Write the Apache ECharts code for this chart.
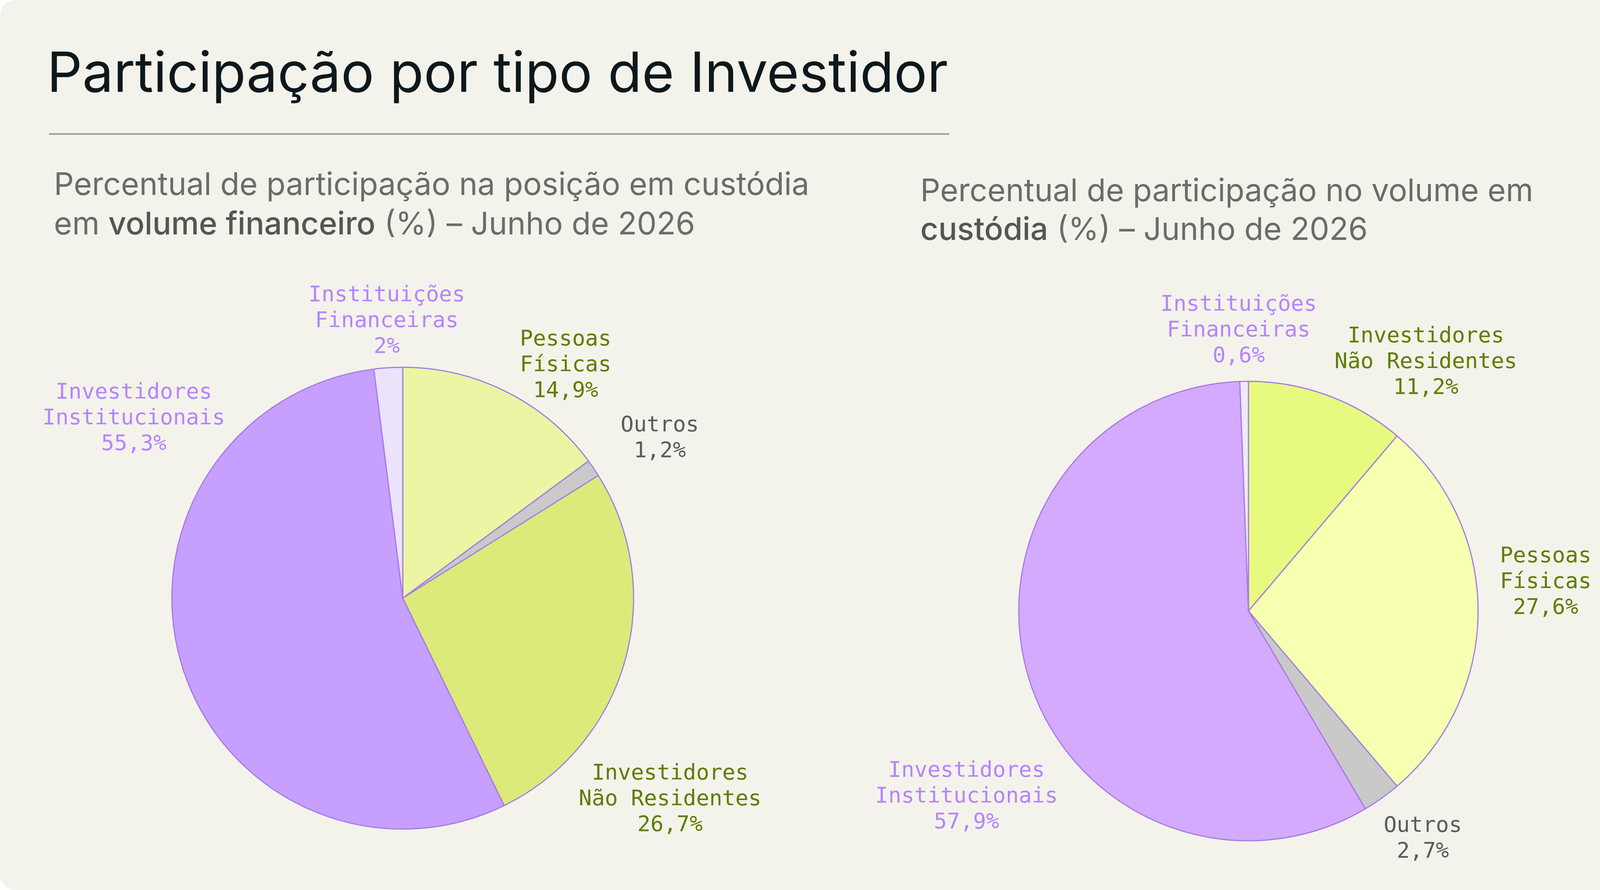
<!DOCTYPE html>
<html>
<head>
<meta charset="utf-8">
<title>Participação por tipo de Investidor</title>
<script src="https://cdn.jsdelivr.net/npm/echarts@6/dist/echarts.min.js"></script>
<style>
  html, body { margin: 0; padding: 0; background: #ffffff; }
  #chart { width: 4287px; height: 2278px; }
</style>
</head>
<body>
<div id="chart"></div>
<script>
// dados
var categoriasFinanceiro = ['Pessoas Físicas', 'Outros', 'Investidores Não Residentes', 'Investidores Institucionais', 'Instituições Financeiras'];
var valoresFinanceiro = [14.9, 1.2, 26.7, 55.3, 2];

var categoriasCustodia = ['Investidores Não Residentes', 'Pessoas Físicas', 'Outros', 'Investidores Institucionais', 'Instituições Financeiras'];
var valoresCustodia = [11.2, 27.6, 2.7, 57.9, 0.6];

// estilos
var coresFinanceiro = {
  'Pessoas Físicas': '#ebf5a4',
  'Outros': '#cacaca',
  'Investidores Não Residentes': '#dcea79',
  'Investidores Institucionais': '#c69fff',
  'Instituições Financeiras': '#ece2fb'
};
var coresCustodia = {
  'Investidores Não Residentes': '#e7fa80',
  'Pessoas Físicas': '#f7ffb1',
  'Outros': '#c9c9c9',
  'Investidores Institucionais': '#d4aaff',
  'Instituições Financeiras': '#f1e9ff'
};
var corRotulo = {
  'Pessoas Físicas': '#5f7d00',
  'Investidores Não Residentes': '#5f7d00',
  'Outros': '#5b5a60',
  'Investidores Institucionais': '#b883ff',
  'Instituições Financeiras': '#b883ff'
};

// posição dos rótulos: [ângulo a partir do topo (graus), distância / raio]
var rotulosFinanceiro = {
  'Pessoas Físicas': [35, 1.23],
  'Outros': [58.2, 1.31],
  'Investidores Não Residentes': [127, 1.45],
  'Investidores Institucionais': [303.7, 1.40],
  'Instituições Financeiras': [356.7, 1.20]
};
var rotulosCustodia = {
  'Investidores Não Residentes': [35.5, 1.33],
  'Pessoas Físicas': [84.5, 1.30],
  'Outros': [142.6, 1.25],
  'Investidores Institucionais': [236.6, 1.47],
  'Instituições Financeiras': [358, 1.22]
};

var pizzas = [
  { centro: [1031, 1531], raio: 591, cats: categoriasFinanceiro, vals: valoresFinanceiro, cores: coresFinanceiro, rotulos: rotulosFinanceiro },
  { centro: [3196, 1564], raio: 588, cats: categoriasCustodia, vals: valoresCustodia, cores: coresCustodia, rotulos: rotulosCustodia }
];

var chartDom = document.getElementById('chart');
var myChart = echarts.init(chartDom);

function formatarValor(v) {
  return String(v).replace('.', ',') + '%';
}

function quebrarNome(nome) {
  return nome.replace(' ', '\n');
}

var series = pizzas.map(function (p) {
  return {
    type: 'pie',
    center: p.centro,
    radius: p.raio,
    startAngle: 90,
    clockwise: true,
    avoidLabelOverlap: false,
    silent: true,
    data: p.cats.map(function (c, i) {
      return {
        name: c,
        value: p.vals[i],
        itemStyle: { color: p.cores[c] },
        label: { color: corRotulo[c] }
      };
    }),
    itemStyle: {
      borderColor: '#a57ce4',
      borderWidth: 3
    },
    label: {
      show: true,
      position: 'outside',
      fontFamily: 'DejaVu Sans Mono',
      fontSize: 55.5,
      lineHeight: 66,
      align: 'center',
      formatter: function (params) {
        return quebrarNome(params.name) + '\n' + formatarValor(params.value);
      }
    },
    labelLine: { show: false },
    labelLayout: function (params) {
      var nome = p.cats[params.dataIndex];
      var spot = p.rotulos[nome];
      var ang = spot[0] * Math.PI / 180;
      var d = spot[1] * p.raio;
      return {
        x: p.centro[0] + Math.sin(ang) * d,
        y: p.centro[1] - Math.cos(ang) * d,
        align: 'center',
        verticalAlign: 'middle'
      };
    },
    emphasis: { disabled: true }
  };
});

var option = {
  backgroundColor: '#ffffff',
  animation: false,
  graphic: [
    {
      type: 'rect',
      z: -10,
      shape: { x: 0, y: 0, width: 4287, height: 2278, r: 40 },
      style: { fill: '#f3f3eb' }
    },
    {
      type: 'line',
      shape: { x1: 125, y1: 343, x2: 2430, y2: 343 },
      style: { stroke: '#9b9b9b', lineWidth: 4 }
    }
  ],
  title: [
    {
      text: 'Participação por tipo de Investidor',
      left: 120,
      top: 117,
      padding: 0,
      textStyle: {
        fontFamily: 'Inter',
        fontWeight: 'normal',
        fontSize: 142,
        lineHeight: 150,
        color: '#0d181c'
      }
    },
    {
      text: 'Percentual de participação na posição em custódia\nem {b|volume financeiro} (%) – Junho de 2026',
      left: 138,
      top: 424,
      padding: 0,
      textStyle: {
        fontFamily: 'Inter',
        fontWeight: 'normal',
        fontSize: 80,
        lineHeight: 101,
        color: '#6b6b6b',
        rich: {
          b: { fontFamily: 'Inter', fontSize: 80, lineHeight: 101, fontWeight: 500, color: '#555555' }
        }
      }
    },
    {
      text: 'Percentual de participação no volume em\n{b|custódia} (%) – Junho de 2026',
      left: 2356,
      top: 441,
      padding: 0,
      textStyle: {
        fontFamily: 'Inter',
        fontWeight: 'normal',
        fontSize: 80,
        lineHeight: 99,
        color: '#6b6b6b',
        rich: {
          b: { fontFamily: 'Inter', fontSize: 80, lineHeight: 99, fontWeight: 500, color: '#555555' }
        }
      }
    }
  ],
  series: series
};

myChart.setOption(option);

window.onresize = () => {
  myChart.resize();
}
</script>
</body>
</html>
